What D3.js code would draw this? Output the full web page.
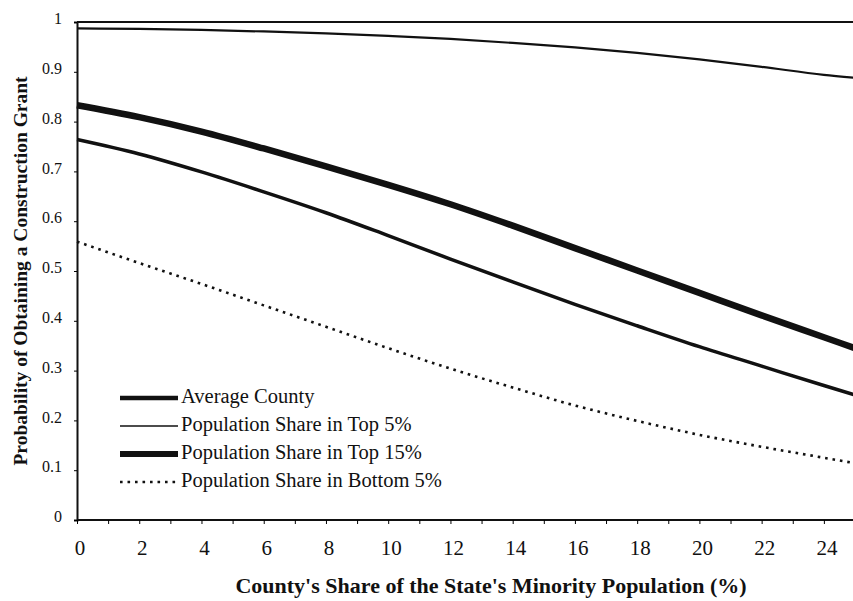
<!DOCTYPE html>
<html>
<head>
<meta charset="utf-8">
<script src="https://cdn.jsdelivr.net/npm/d3@7"></script>
<style>
  body { margin: 0; background: #fff; }
  svg { display: block; }
  text { font-family: "Liberation Serif", "Times New Roman", serif; fill: #111; }
</style>
</head>
<body>
<div id="viz"></div>
<script>
// values (county share in %, predicted probability)
var shares = [0, 2, 4, 6, 8, 10, 12, 14, 16, 18, 20, 22, 24, 25];
var averageCounty = [0.764, 0.735, 0.699, 0.659, 0.617, 0.571, 0.524, 0.478, 0.433, 0.390, 0.348, 0.309, 0.270, 0.251];
var top5 = [0.987, 0.986, 0.984, 0.981, 0.977, 0.972, 0.966, 0.958, 0.949, 0.938, 0.925, 0.910, 0.894, 0.888];
var top15 = [0.833, 0.809, 0.780, 0.746, 0.710, 0.673, 0.634, 0.591, 0.546, 0.501, 0.456, 0.411, 0.367, 0.345];
var bottom5 = [0.559, 0.516, 0.474, 0.431, 0.388, 0.345, 0.304, 0.266, 0.230, 0.199, 0.171, 0.147, 0.125, 0.114];

var seriesNames = ["Average County", "Population Share in Top 5%", "Population Share in Top 15%", "Population Share in Bottom 5%"];
var yTicks = [0, 0.1, 0.2, 0.3, 0.4, 0.5, 0.6, 0.7, 0.8, 0.9, 1];
var xLabels = [0, 2, 4, 6, 8, 10, 12, 14, 16, 18, 20, 22, 24];

var W = 853, H = 601;
var margin = { top: 22, right: 0, bottom: 81, left: 77 };

var svg = d3.select("#viz").append("svg")
    .attr("width", W)
    .attr("height", H);

var x = d3.scaleLinear().domain([0, 25]).range([margin.left, 855]);
var y = d3.scaleLinear().domain([0, 1]).range([H - margin.bottom, margin.top]);

// frame: left axis, bottom axis, top line
svg.append("line")
    .attr("x1", x(0)).attr("x2", W)
    .attr("y1", y(1)).attr("y2", y(1))
    .attr("stroke", "#111").attr("stroke-width", 2);

var yAxis = svg.append("g")
    .attr("transform", "translate(" + x(0) + ",0)")
    .call(d3.axisLeft(y).tickValues(yTicks).tickSize(3).tickPadding(12)
        .tickFormat(function(d) { return d === 0 || d === 1 ? d3.format("d")(d) : d3.format(".1f")(d); }));
yAxis.select(".domain").attr("stroke", "#111").attr("stroke-width", 2);
yAxis.selectAll("text").style("font-size", "16px").attr("font-family", null).attr("dy", "0.1em");

var xAxis = svg.append("g")
    .attr("transform", "translate(0," + y(0) + ")")
    .call(d3.axisBottom(x).tickValues(d3.range(0, 25, 1)).tickSize(4).tickFormat(""));
xAxis.select(".domain").attr("d", "M" + x(0) + ",0H" + W).attr("stroke", "#111").attr("stroke-width", 2);

svg.append("g").selectAll("text")
    .data(xLabels).enter()
    .append("text")
    .attr("x", function(d) { return x(d) + 3; })
    .attr("y", y(0) + 35)
    .attr("text-anchor", "middle")
    .style("font-size", "21px")
    .text(function(d) { return d; });

// axis titles
svg.append("text")
    .attr("transform", "translate(27," + 271 + ") rotate(-90)")
    .attr("text-anchor", "middle")
    .style("font-size", "19.5px")
    .style("font-weight", "bold")
    .text("Probability of Obtaining a Construction Grant");

svg.append("text")
    .attr("x", 491)
    .attr("y", 593)
    .attr("text-anchor", "middle")
    .style("font-size", "22px")
    .style("font-weight", "bold")
    .text("County's Share of the State's Minority Population (%)");

// lines
var styles = [
    { values: averageCounty, width: 3.5, dash: null, legendWidth: 4.5 },
    { values: top5, width: 2.2, dash: null, legendWidth: 1.6 },
    { values: top15, width: 6.5, dash: null, legendWidth: 6 },
    { values: bottom5, width: 2.6, dash: "2.6,4.9", legendWidth: 2.4 }
];

var line = d3.line()
    .x(function(d) { return x(d.share); })
    .y(function(d) { return y(d.value); })
    .curve(d3.curveMonotoneX);

var plot = svg.append("g");
styles.forEach(function(s) {
    var records = shares.map(function(sh, i) { return { share: sh, value: s.values[i] }; });
    plot.append("path")
        .datum(records)
        .attr("d", line)
        .attr("fill", "none")
        .attr("stroke", "#111")
        .attr("stroke-width", s.width)
        .attr("stroke-dasharray", s.dash);
});

// legend
var legend = svg.append("g");
var rowY = [396, 424, 452, 480];
seriesNames.forEach(function(name, i) {
    legend.append("line")
        .attr("x1", 120).attr("x2", 178)
        .attr("y1", rowY[i] + 2).attr("y2", rowY[i] + 2)
        .attr("stroke", "#111")
        .attr("stroke-width", styles[i].legendWidth)
        .attr("stroke-dasharray", styles[i].dash);
    legend.append("text")
        .attr("x", 181)
        .attr("y", rowY[i] + 7)
        .style("font-size", "20.5px")
        .text(name);
});
</script>
</body>
</html>
